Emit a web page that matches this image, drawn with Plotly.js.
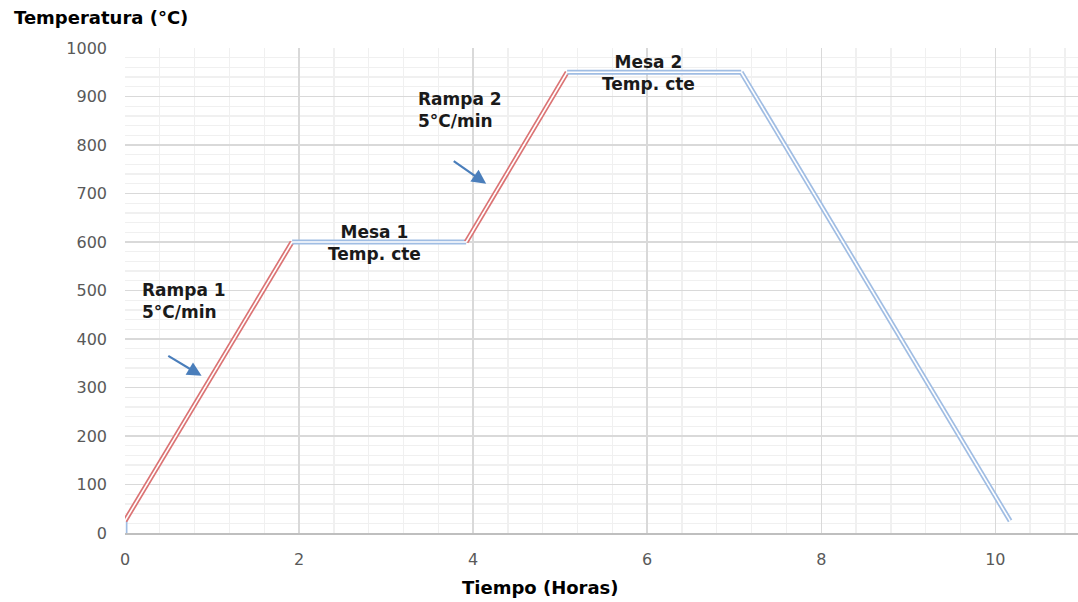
<!DOCTYPE html>
<html>
<head>
<meta charset="utf-8">
<script src="https://cdn.plot.ly/plotly-3.0.1.min.js"></script>
<style>html,body{margin:0;padding:0;background:#fff;}#chart{width:1078px;height:602px;}</style>
</head>
<body>
<div id="chart"></div>
<script>
// Time (hours) and temperature (°C) at each vertex of the heating profile
const tiempo = [0, 0, 1.92, 3.92, 5.08, 7.08, 10.17];
const temperatura = [0, 25, 600, 600, 950, 950, 25];
// Kind of each segment between consecutive vertices
const tipoSegmento = ["mesa", "rampa", "mesa", "rampa", "mesa", "mesa"];
const colores = { rampa: "#db7374", mesa: "#a0bde3" };

const xTicks = [0, 2, 4, 6, 8, 10];
const yTicks = [0, 100, 200, 300, 400, 500, 600, 700, 800, 900, 1000];

const etiquetas = [
  { text: "Rampa 1<br>5°C/min", x: 0.17, y: 478, xanchor: "left", align: "left" },
  { text: "Mesa 1<br>Temp. cte", x: 2.87, y: 598, xanchor: "center", align: "center" },
  { text: "Rampa 2<br>5°C/min", x: 3.34, y: 873, xanchor: "left", align: "left" },
  { text: "Mesa 2<br>Temp. cte", x: 6.01, y: 949, xanchor: "center", align: "center" }
];
const flechas = [
  { x0: 0.48, y0: 367, x1: 0.88, y1: 324 },
  { x0: 3.76, y0: 769, x1: 4.15, y1: 720 }
];

const outer = [], inner = [];
for (let i = 0; i < tipoSegmento.length; i++) {
  const xs = [tiempo[i], tiempo[i + 1]], ys = [temperatura[i], temperatura[i + 1]];
  outer.push({ x: xs, y: ys, mode: "lines", hoverinfo: "skip", showlegend: false,
    line: { color: colores[tipoSegmento[i]], width: 5 } });
  inner.push({ x: xs, y: ys, mode: "lines", hoverinfo: "skip", showlegend: false,
    line: { color: "#ffffff", width: 1.6 } });
}

const BOLD = "'DejaVu Sans', sans-serif";
const annotations = etiquetas.map(e => ({
  text: "<b>" + e.text + "</b>", x: e.x, y: e.y, xref: "x", yref: "y",
  xanchor: e.xanchor, yanchor: "middle", align: e.align, showarrow: false,
  font: { family: BOLD, size: 17, color: "#1a1a1a" }
}));
flechas.forEach(f => annotations.push({
  x: f.x1, y: f.y1, ax: f.x0, ay: f.y0, xref: "x", yref: "y", axref: "x", ayref: "y",
  text: "", showarrow: true, arrowhead: 2, arrowsize: 1.3, arrowwidth: 2.2, arrowcolor: "#4a7ebb"
}));
annotations.push({
  text: "<b>Temperatura (°C)</b>", xref: "paper", yref: "paper", x: -0.1186, y: 1.062,
  xanchor: "left", yanchor: "middle", showarrow: false,
  font: { family: BOLD, size: 18, color: "#000" }
});
annotations.push({
  text: "<b>Tiempo (Horas)</b>", xref: "paper", yref: "paper", x: 0.4355, y: -0.1134,
  xanchor: "center", yanchor: "middle", showarrow: false,
  font: { family: BOLD, size: 18, color: "#000" }
});

const layout = {
  width: 1078, height: 602,
  margin: { l: 125, r: 0, t: 48, b: 69 },
  paper_bgcolor: "#ffffff", plot_bgcolor: "#ffffff",
  font: { family: "'DejaVu Sans', sans-serif", size: 16, color: "#595959" },
  xaxis: {
    range: [0, 10.95], tickvals: xTicks, ticktext: xTicks.map(String),
    showgrid: true, gridcolor: "#d9d9d9", gridwidth: 1.5,
    minor: { dtick: 0.4, tick0: 0, showgrid: true, gridcolor: "#f0f0f0", gridwidth: 1.3 },
    zeroline: false, showline: true, linecolor: "#bfbfbf", linewidth: 1.5,
    ticks: "", ticklabelstandoff: 11, fixedrange: true
  },
  yaxis: {
    range: [0, 1000], tickvals: yTicks, ticktext: yTicks.map(String),
    showgrid: true, gridcolor: "#d9d9d9", gridwidth: 1.5,
    minor: { dtick: 20, tick0: 0, showgrid: true, gridcolor: "#f0f0f0", gridwidth: 1.3 },
    zeroline: false, showline: false,
    ticks: "", ticklabelstandoff: 17, fixedrange: true
  },
  annotations: annotations,
  showlegend: false
};

Plotly.newPlot("chart", outer.concat(inner), layout, { displayModeBar: false, staticPlot: true });
</script>
</body>
</html>
